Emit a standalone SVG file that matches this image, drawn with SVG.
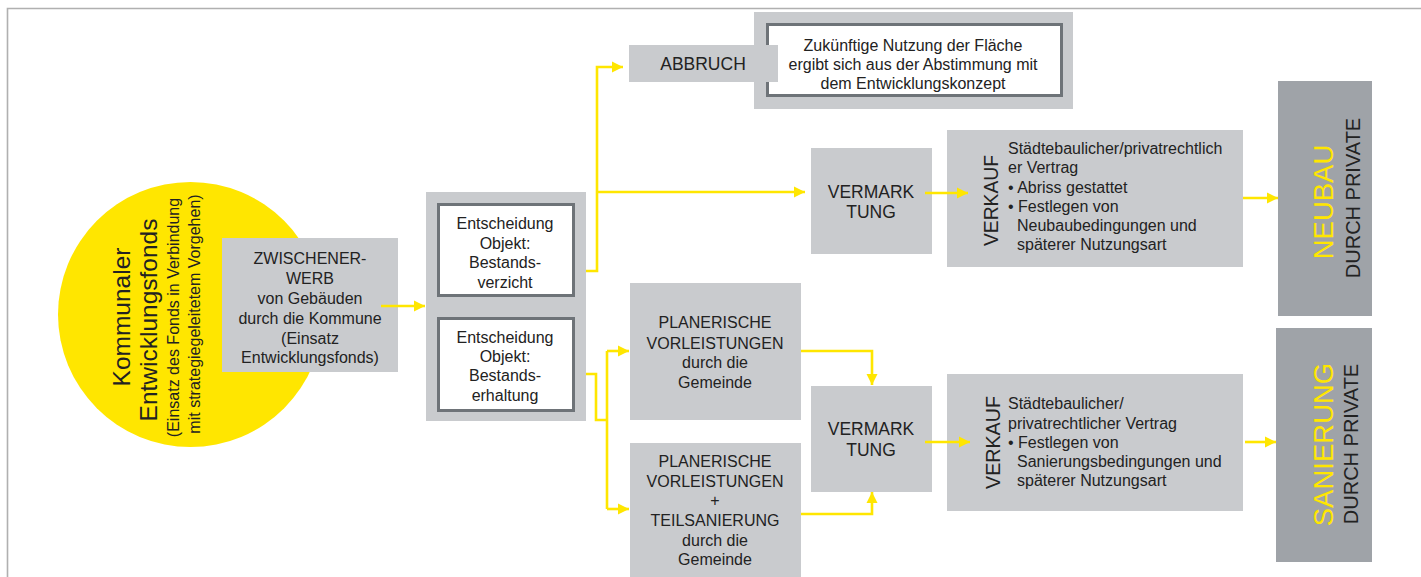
<svg xmlns="http://www.w3.org/2000/svg" width="1421" height="577" viewBox="0 0 1421 577">
<defs>
<style>
text{font-family:"Liberation Sans",Arial,sans-serif;fill:#222}
.f16{font-size:16px}
.cap{font-size:17.5px}
.mid{text-anchor:middle}
.lg{fill:#c9cbce}
.dg{fill:#9fa3a8}
.wb{fill:#fff;stroke:#6e7378;stroke-width:3}
.con{fill:none;stroke:#ffe600;stroke-width:2.6}
.yel{fill:#ffe600}
</style>
<marker id="ah" markerUnits="userSpaceOnUse" markerWidth="12" markerHeight="12" viewBox="0 0 12 12" refX="11" refY="6" orient="auto">
<path d="M0,0.5 L11,6 L0,11.5 z" fill="#ffe600"/>
</marker>
</defs>
<rect width="1421" height="577" fill="#fff"/>
<g id="frame">
<path d="M7.5,577 V8.5 H1421" fill="none" stroke="#b0b0b0" stroke-width="1.6"/>
</g>
<g id="fonds">
<circle cx="190.5" cy="314.5" r="132.5" class="yel"/>
<text transform="translate(130,317) rotate(-90)" class="mid" style="font-size:24.5px">Kommunaler</text>
<text transform="translate(157,320) rotate(-90)" class="mid" style="font-size:24.5px">Entwicklungsfonds</text>
<text transform="translate(179,317.5) rotate(-90)" class="mid f16">(Einsatz des Fonds in Verbindung</text>
<text transform="translate(200,314) rotate(-90)" class="mid f16">mit strategiegeleitetem Vorgehen)</text>
</g>
<g id="zwischenerwerb">
<rect x="222" y="238" width="176" height="134" class="lg"/>
<text class="mid f16" x="310"><tspan x="310" y="264">ZWISCHENER-</tspan><tspan x="310" y="284">WERB</tspan><tspan x="310" y="304">von Gebäuden</tspan><tspan x="310" y="324">durch die Kommune</tspan><tspan x="310" y="344">(Einsatz</tspan><tspan x="310" y="363">Entwicklungsfonds)</tspan></text>
</g>
<g id="entscheidung">
<rect x="426" y="192" width="160" height="229" class="lg"/>
<g id="bestandsverzicht">
<rect x="438.5" y="204.5" width="135" height="91" class="wb"/>
<text class="mid f16"><tspan x="505" y="229">Entscheidung</tspan><tspan x="505" y="248.5">Objekt:</tspan><tspan x="505" y="268">Bestands-</tspan><tspan x="505" y="287.5">verzicht</tspan></text>
</g>
<g id="bestandserhaltung">
<rect x="438.5" y="318.5" width="135" height="92" class="wb"/>
<text class="mid f16"><tspan x="505" y="343">Entscheidung</tspan><tspan x="505" y="362">Objekt:</tspan><tspan x="505" y="381">Bestands-</tspan><tspan x="505" y="400.5">erhaltung</tspan></text>
</g>
</g>
<g id="zukunft">
<rect x="754" y="12" width="319" height="97" class="lg"/>
<rect x="767.5" y="24.5" width="294" height="71" class="wb"/>
<text class="mid f16"><tspan x="913" y="51">Zukünftige Nutzung der Fläche</tspan><tspan x="913" y="70">ergibt sich aus der Abstimmung mit</tspan><tspan x="913" y="89">dem Entwicklungskonzept</tspan></text>
</g>
<g id="abbruch">
<rect x="629" y="45" width="149" height="37" class="lg"/>
<text class="mid cap" x="703" y="69.5">ABBRUCH</text>
</g>
<g id="vermarktung1">
<rect x="811" y="148" width="121" height="106" class="lg"/>
<text class="mid cap"><tspan x="871" y="197.5">VERMARK</tspan><tspan x="871" y="218">TUNG</tspan></text>
</g>
<g id="verkauf1">
<rect x="947" y="130" width="296" height="137" class="lg"/>
<text transform="translate(998,200.5) rotate(-90)" class="mid" style="font-size:21px" textLength="91" lengthAdjust="spacingAndGlyphs">VERKAUF</text>
<text class="f16"><tspan x="1008" y="154">Städtebaulicher/privatrechtlich</tspan><tspan x="1008" y="173">er Vertrag</tspan><tspan x="1008" y="192.5">• Abriss gestattet</tspan><tspan x="1008" y="211.5">• Festlegen von</tspan><tspan x="1017" y="230.5">Neubaubedingungen und</tspan><tspan x="1017" y="249.5">späterer Nutzungsart</tspan></text>
</g>
<g id="neubau">
<rect x="1278" y="81" width="94" height="235" class="dg"/>
<text transform="translate(1333,202) rotate(-90)" class="mid" style="font-size:27.5px;fill:#ffe600">NEUBAU</text>
<text transform="translate(1359.5,198) rotate(-90)" class="mid" style="font-size:20px">DURCH PRIVATE</text>
</g>
<g id="planerisch1">
<rect x="630" y="283" width="171" height="137" class="lg"/>
<text class="mid f16"><tspan x="715" y="328">PLANERISCHE</tspan><tspan x="715" y="348.5">VORLEISTUNGEN</tspan><tspan x="715" y="368">durch die</tspan><tspan x="715" y="388">Gemeinde</tspan></text>
</g>
<g id="planerisch2">
<rect x="630" y="443" width="171" height="134" class="lg"/>
<text class="mid f16"><tspan x="715" y="467">PLANERISCHE</tspan><tspan x="715" y="486.5">VORLEISTUNGEN</tspan><tspan x="715" y="506">+</tspan><tspan x="715" y="526">TEILSANIERUNG</tspan><tspan x="715" y="546">durch die</tspan><tspan x="715" y="565">Gemeinde</tspan></text>
</g>
<g id="vermarktung2">
<rect x="811" y="386" width="121" height="106" class="lg"/>
<text class="mid cap"><tspan x="871" y="435">VERMARK</tspan><tspan x="871" y="456">TUNG</tspan></text>
</g>
<g id="verkauf2">
<rect x="947" y="374" width="296" height="137" class="lg"/>
<text transform="translate(1000,442.5) rotate(-90)" class="mid" style="font-size:21px" textLength="93" lengthAdjust="spacingAndGlyphs">VERKAUF</text>
<text class="f16"><tspan x="1008" y="409">Städtebaulicher/</tspan><tspan x="1008" y="428.5">privatrechtlicher Vertrag</tspan><tspan x="1008" y="448">• Festlegen von</tspan><tspan x="1017" y="467">Sanierungsbedingungen und</tspan><tspan x="1017" y="486">späterer Nutzungsart</tspan></text>
</g>
<g id="sanierung">
<rect x="1276" y="328" width="96" height="234" class="dg"/>
<text transform="translate(1333,444.5) rotate(-90)" class="mid" style="font-size:27.5px;fill:#ffe600">SANIERUNG</text>
<text transform="translate(1358,444) rotate(-90)" class="mid" style="font-size:20px">DURCH PRIVATE</text>
</g>
<g id="connectors">
<path class="con" d="M381,306 H425" marker-end="url(#ah)"/>
<path class="con" d="M586,271 H597 V67 H623" marker-end="url(#ah)"/>
<path class="con" d="M597,192 H805" marker-end="url(#ah)"/>
<path class="con" d="M586,374 H596 V420 H607"/>
<path class="con" d="M607,351 V509"/>
<path class="con" d="M607,351 H629" marker-end="url(#ah)"/>
<path class="con" d="M607,509 H629" marker-end="url(#ah)"/>
<path class="con" d="M801,351 H872 V385" marker-end="url(#ah)"/>
<path class="con" d="M801,514 H872 V492" marker-end="url(#ah)"/>
<path class="con" d="M925,193 H968" marker-end="url(#ah)"/>
<path class="con" d="M1243,198 H1278" marker-end="url(#ah)"/>
<path class="con" d="M925,442 H970" marker-end="url(#ah)"/>
<path class="con" d="M1245,442 H1276" marker-end="url(#ah)"/>
</g>
</svg>
